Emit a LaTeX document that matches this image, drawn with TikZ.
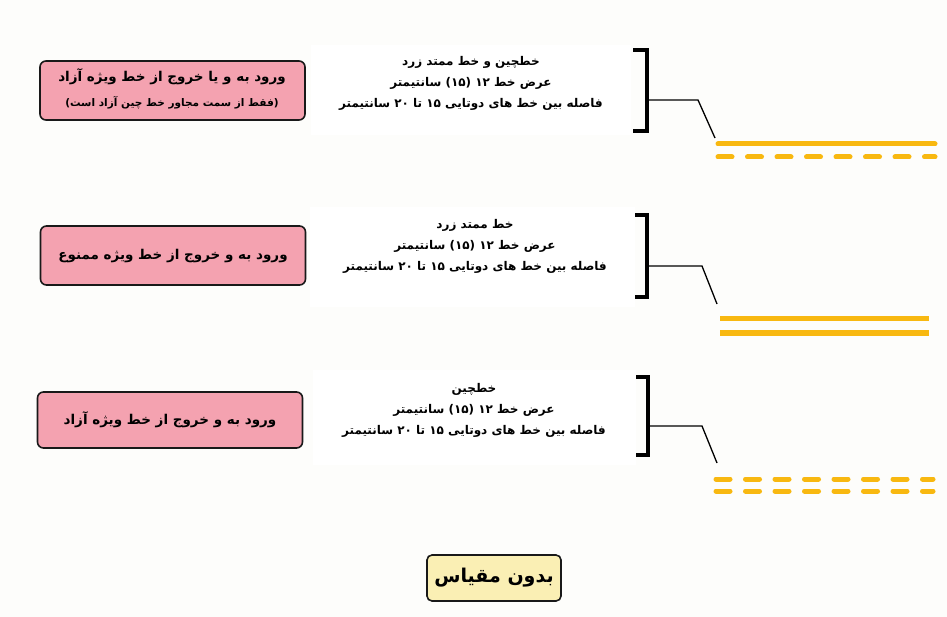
\documentclass[tikz,border=0pt]{standalone}
\usepackage{fontspec}
\TeXXeTstate=1
\newfontfamily\fa[Script=Arabic]{DejaVu Sans}
\definecolor{bgcol}{HTML}{FDFDFB}
\definecolor{pinkc}{HTML}{F4A2B0}
\definecolor{yelc}{HTML}{F8B810}
\definecolor{paleyel}{HTML}{FAEFB4}
\tikzset{
  pinkbox/.style={draw=black!90, line width=1.6pt, fill=pinkc, rounded corners=6pt, minimum width=265pt, minimum height=59pt, inner sep=0pt},
  infobox/.style={fill=white, minimum width=320pt, minimum height=90pt, inner sep=0pt},
  infotext/.style={align=center, font=\fa\bfseries\fontsize{12}{21}\selectfont, inner sep=0pt},
  brk/.style={line width=4.5pt},
  lead/.style={line width=1.3pt},
  yline/.style={draw=yelc, line width=5pt, line cap=round},
  ydash/.style={yline, dash pattern=on 14pt off 15.5pt}
}
\begin{document}
\begin{tikzpicture}[x=1pt,y=-1pt]
\fill[bgcol] (0,0) rectangle (947,617);
\useasboundingbox (0,0) rectangle (947,617);

% white info boxes
\node[infobox, minimum width=320pt, minimum height=90pt] (w1) at (471,90) {};
\node[infobox, minimum width=325pt, minimum height=100pt] (w2) at (472,257) {};
\node[infobox, minimum width=323pt, minimum height=95pt] (w3) at (474,417) {};

% pink boxes
\node[pinkbox] (p1) at (172.5,90.5) {};
\node[font=\fa\bfseries\fontsize{13.5}{16}\selectfont] (p1a) at (172,77) {\beginR ورود به و یا خروج از خط ویژه آزاد\endR};
\node[font=\fa\bfseries\fontsize{10.5}{12}\selectfont] (p1b) at (172,103) {\beginR (فقط از سمت مجاور خط چین آزاد است)\endR};
\node[pinkbox] (p2) at (173,255.5) {};
\node[font=\fa\bfseries\fontsize{13.5}{16}\selectfont] (p2a) at (173,256) {\beginR ورود به و خروج از خط ویژه ممنوع\endR};
\node[pinkbox, minimum height=56pt] (p3) at (170,420) {};
\node[font=\fa\bfseries\fontsize{13.5}{16}\selectfont] (p3a) at (170,420) {\beginR ورود به و خروج از خط ویژه آزاد\endR};

% info texts
\node[infotext] (t1) at (471,83) {\beginR خطچین و خط ممتد زرد\endR\\ \beginR عرض خط ۱۲ (۱۵) سانتیمتر\endR\\ \beginR فاصله بین خط های دوتایی ۱۵ تا ۲۰ سانتیمتر\endR};
\node[infotext] (t2) at (475,246) {\beginR خط ممتد زرد\endR\\ \beginR عرض خط ۱۲ (۱۵) سانتیمتر\endR\\ \beginR فاصله بین خط های دوتایی ۱۵ تا ۲۰ سانتیمتر\endR};
\node[infotext] (t3) at (474,410) {\beginR خطچین\endR\\ \beginR عرض خط ۱۲ (۱۵) سانتیمتر\endR\\ \beginR فاصله بین خط های دوتایی ۱۵ تا ۲۰ سانتیمتر\endR};

% brackets
\draw[brk] (633,50) -- (647,50) -- (647,131) -- (633,131);
\draw[brk] (635,215) -- (647,215) -- (647,297) -- (635,297);
\draw[brk] (636,377) -- (648,377) -- (648,455) -- (636,455);

% leaders
\coordinate (b1) at (648,100); \coordinate (k1) at (698,100); \coordinate (e1) at (715,138);
\coordinate (b2) at (648,266); \coordinate (k2) at (702,266); \coordinate (e2) at (717,304);
\coordinate (b3) at (649,426); \coordinate (k3) at (702,426); \coordinate (e3) at (717,463);
\draw[lead] (b1) -- (k1) -- (e1);
\draw[lead] (b2) -- (k2) -- (e2);
\draw[lead] (b3) -- (k3) -- (e3);

% road markings
\coordinate (s1a) at (718,144); \coordinate (s1b) at (935,144);
\coordinate (d1a) at (718,157); \coordinate (d1b) at (935,157);
\draw[yline] (s1a) -- (s1b);
\draw[ydash] (d1a) -- (d1b);
\coordinate (s2a) at (720,319); \coordinate (s2b) at (929,319);
\coordinate (s2c) at (720,333); \coordinate (s2d) at (929,333);
\draw[yline, line cap=butt] (s2a) -- (s2b);
\draw[yline, line cap=butt] (s2c) -- (s2d);
\coordinate (d3a) at (716,479); \coordinate (d3b) at (933,479);
\coordinate (d3c) at (716,491); \coordinate (d3d) at (933,491);
\draw[ydash] (d3a) -- (d3b);
\draw[ydash] (d3c) -- (d3d);

% no-scale box
\node[draw=black!90, line width=1.6pt, fill=paleyel, rounded corners=5pt, minimum width=134pt, minimum height=46pt, font=\fa\bfseries\fontsize{19}{22}\selectfont] (ns) at (494,578) {\beginR بدون مقیاس\endR};
\end{tikzpicture}
\end{document}
